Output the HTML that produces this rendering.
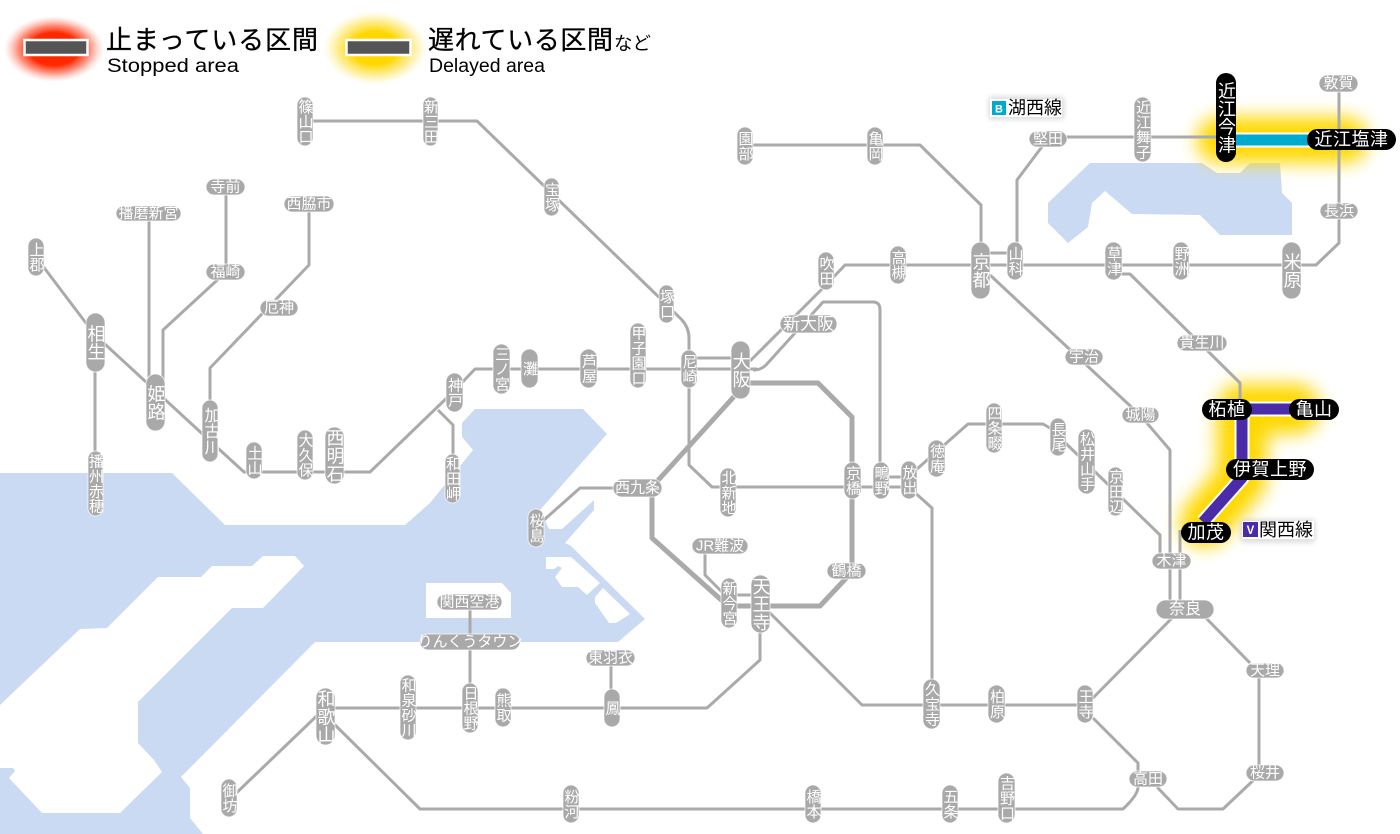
<!DOCTYPE html>
<html lang="ja"><head><meta charset="utf-8"><title>路線図</title>
<style>
html,body{margin:0;padding:0;background:#fff;width:1400px;height:834px;overflow:hidden}
svg{display:block}
text{font-family:"Liberation Sans","Noto Sans CJK JP",sans-serif}
.l{fill:none;stroke:#aaa;stroke-width:3;stroke-linejoin:round}
.t{fill:none;stroke:#aaa;stroke-width:5;stroke-linejoin:round}
.p rect{fill:#a9a9a9;stroke:#fff;stroke-opacity:.7;stroke-width:1}
.p text{fill:#fff;text-anchor:middle;font-size:15px}
.p .b{font-size:18px}
.v{writing-mode:vertical-rl}
.h{dominant-baseline:central}
.k rect{fill:#000}
.k text{fill:#fff;text-anchor:middle;font-size:18px}
.k .h{letter-spacing:.5px}
</style></head><body>
<svg width="1400" height="834" viewBox="0 0 1400 834" xmlns="http://www.w3.org/2000/svg">
<defs>
<filter id="g2" filterUnits="userSpaceOnUse" x="0" y="0" width="1400" height="834"><feGaussianBlur stdDeviation="9"/></filter>
<filter id="sh" x="-20%" y="-30%" width="140%" height="160%"><feGaussianBlur stdDeviation="2"/></filter>
<radialGradient id="rg"><stop offset="0" stop-color="#ff2000"/><stop offset=".5" stop-color="#ff2a00"/><stop offset=".72" stop-color="#ff6a50" stop-opacity=".75"/><stop offset="1" stop-color="#ffb0a0" stop-opacity="0"/></radialGradient>
<radialGradient id="yg"><stop offset="0" stop-color="#ffd800"/><stop offset=".45" stop-color="#ffd800"/><stop offset=".72" stop-color="#ffe460" stop-opacity=".7"/><stop offset="1" stop-color="#fff0a0" stop-opacity="0"/></radialGradient>
</defs>

<!-- sea -->
<polygon fill="#cadaf3" points="0,473 172,473 225,525 405,525 430,503 473,450 462,437 462,423 475,409 583,409 607,434 540,510 549,529 562,529 594,500 594,510 565,543 571,546 645,619 618,642 315,642 181,777 190,788 190,818 203,834 0,834"/>
<polygon fill="#fff" points="304,566 295,556 263,556 252,566 212,566 201,577 158,577 107,628 80,629 0,705 0,768 13,768 15,771 9,778 42,813 120,813 162,772 154,760 138,743 138,702 232,608 263,608"/>
<polygon fill="#fff" points="426,583 502,583 511,593 511,618 426,618"/>
<polygon fill="#fff" points="546,557 571,557 600,583 587,595 578,587 562,587 555,577 562,568 558,566 554,569 546,569"/>
<polygon fill="#fff" points="603,588 630,614 616,623 609,623 595,603 595,597"/>
<!-- lake -->
<polygon fill="#cadaf3" points="1090,163 1202,163 1217,173 1240,173 1250,163 1280,163 1282,193 1292,203 1292,235 1220,235 1200,215 1132,214 1105,191 1092,203 1088,227 1068,243 1048,223 1048,203"/>

<!-- glows -->
<ellipse cx="54" cy="49" rx="50" ry="33" fill="url(#rg)"/>
<ellipse cx="375" cy="48" rx="52" ry="37" fill="url(#yg)"/>
<path d="M1220 140H1345" fill="none" stroke="#ffd800" stroke-width="46" stroke-linecap="round" filter="url(#g2)"/>
<path d="M1295 409H1242V478L1205 522" fill="none" stroke="#ffd800" stroke-width="50" stroke-linecap="round" stroke-linejoin="round" filter="url(#g2)"/>
<rect x="24.5" y="40" width="63" height="15" fill="#555" stroke="#fff" stroke-width="2.5"/>
<rect x="346.5" y="40" width="64" height="15" fill="#555" stroke="#fff" stroke-width="2.5"/>

<!-- legend text -->
<text x="106" y="49" font-size="26" fill="#000" stroke="#000" stroke-width=".3" textLength="212">止まっている区間</text>
<text x="107" y="72" font-size="19" fill="#000" textLength="132" lengthAdjust="spacingAndGlyphs">Stopped area</text>
<text x="428" y="49" font-size="26" fill="#000" stroke="#000" stroke-width=".3" textLength="185">遅れている区間</text>
<text x="614" y="50" font-size="18.5" fill="#000">など</text>
<text x="429" y="72" font-size="19" fill="#000" textLength="116" lengthAdjust="spacingAndGlyphs">Delayed area</text>

<!-- lines -->
<path class="l" d="M305 121H477L666 304L682 320Q689 328 689 338V465L712 487H908"/>
<path class="l" d="M36 257L95 335L209 440L244 472H370L454 391L475 369H757"/>
<path class="l" d="M95 345V485"/>
<path class="l" d="M149 213V380"/>
<path class="l" d="M226 187V272L163 330V380"/>
<path class="l" d="M309 204V265L210 368V410"/>
<path class="l" d="M438 410L453 425V470"/>
<path class="l" d="M689 358H740"/>
<path class="l" d="M750 361L826 285L845 265H1316L1339 243V83"/>
<path class="l" d="M753 370Q761 370 766 365L823 302H873Q880 302 880 310V480"/>
<path class="l" d="M745 145H920L981 205V265"/>
<path class="l" d="M985 253H1015"/>
<path class="l" d="M990 275L1140 415L1170 450V610"/>
<path class="l" d="M1047 137H1226"/>
<path class="l" d="M1047 140L1017 180V260"/>
<path class="l" d="M1113 274H1130L1240 383V405"/>
<path class="l" d="M1180 530V610"/>
<path class="l" d="M880 477H908"/>
<path class="l" d="M909 476L968 424H1043L1050 428L1160 535V560"/>
<path class="l" d="M912 490L932 508V705"/>
<path class="l" d="M536 527L580 488H640"/>
<path class="t" d="M745 383H818L852 417V570"/>
<path class="t" d="M740 390L652 487V538L728 606H820L852 572"/>
<path class="l" d="M705 546V575L725 595H760"/>
<path class="l" d="M760 620V660L707 708H325"/>
<path class="l" d="M765 608L862 705H1086L1175 615"/>
<path class="l" d="M1205 617L1250 663"/>
<path class="l" d="M1259 670V772"/>
<path class="l" d="M1093 718L1138 763V787Q1138 795 1123 809H420L330 720"/>
<path class="l" d="M1157 787L1178 809H1223L1259 775"/>
<path class="l" d="M229 800L325 708"/>
<path class="l" d="M611 657V700"/>
<path class="l" d="M470 602V700"/>

<!-- stations -->
<g class="p">
<rect x="297" y="97" width="16" height="49" rx="8"/><text class="v" x="305" y="121.5">篠山口</text>
<rect x="423" y="97" width="15" height="49" rx="7.5"/><text class="v" x="430.5" y="121.5">新三田</text>
<rect x="544" y="178" width="15" height="38" rx="7.5"/><text class="v" x="551.5" y="197">宝塚</text>
<rect x="659" y="285" width="15" height="38" rx="7.5"/><text class="v" x="666.5" y="304">塚口</text>
<rect x="28" y="238" width="16" height="38" rx="8"/><text class="v" x="36" y="257">上郡</text>
<rect x="206" y="179" width="39" height="16" rx="8"/><text class="h" x="225.5" y="187">寺前</text>
<rect x="116" y="206" width="65" height="15" rx="7.5"/><text class="h" x="148.5" y="213.5">播磨新宮</text>
<rect x="284" y="196" width="50" height="16" rx="8"/><text class="h" x="309" y="204">西脇市</text>
<rect x="206" y="264" width="39" height="16" rx="8"/><text class="h" x="225.5" y="272">福崎</text>
<rect x="260" y="300" width="38" height="16" rx="8"/><text class="h" x="279" y="308">厄神</text>
<rect x="86" y="313" width="19" height="59" rx="9.5"/><text class="v b" x="95.5" y="342.5">相生</text>
<rect x="146" y="374" width="19" height="57" rx="9.5"/><text class="v b" x="155.5" y="402.5">姫路</text>
<rect x="202" y="400" width="16" height="62" rx="8"/><text class="v" x="210" y="431" style="font-size:16px">加古川</text>
<rect x="246" y="442" width="16" height="37" rx="8"/><text class="v" x="254" y="460.5">土山</text>
<rect x="297" y="430" width="16" height="50" rx="8"/><text class="v" x="305" y="455">大久保</text>
<rect x="325" y="427" width="19" height="57" rx="9.5"/><text class="v b" x="334.5" y="455.5">西明石</text>
<rect x="88" y="451" width="15" height="65" rx="7.5"/><text class="v" x="95.5" y="483.5">播州赤穂</text>
<rect x="446" y="373" width="17" height="39" rx="8.5"/><text class="v" x="454.5" y="392.5">神戸</text>
<rect x="445" y="454" width="15" height="49" rx="7.5"/><text class="v" x="452.5" y="478.5">和田岬</text>
<rect x="493" y="344" width="17" height="50" rx="8.5"/><text class="v" x="501.5" y="369">三ノ宮</text>
<rect x="521" y="349" width="17" height="39" rx="8.5"/><text class="v" x="529.5" y="368.5">灘</text>
<rect x="580" y="349" width="17" height="39" rx="8.5"/><text class="v" x="588.5" y="368.5">芦屋</text>
<rect x="630" y="323" width="16" height="65" rx="8"/><text class="v" x="638" y="355.5">甲子園口</text>
<rect x="681" y="350" width="16" height="38" rx="8"/><text class="v" x="689" y="369">尼崎</text>
<rect x="731" y="341" width="19" height="58" rx="9.5"/><text class="v b" x="740.5" y="370">大阪</text>
<rect x="780" y="315" width="57" height="18" rx="9"/><text class="h b" x="808.5" y="324" style="font-size:17px">新大阪</text>
<rect x="844" y="462" width="17" height="37" rx="8.5"/><text class="v" x="852.5" y="480.5">京橋</text>
<rect x="873" y="462" width="16" height="37" rx="8"/><text class="v" x="881" y="480.5">鴫野</text>
<rect x="901" y="461" width="16" height="38" rx="8"/><text class="v" x="909" y="480">放出</text>
<rect x="928" y="440" width="17" height="37" rx="8.5"/><text class="v" x="936.5" y="458.5">徳庵</text>
<rect x="720" y="468" width="16" height="49" rx="8"/><text class="v" x="728" y="492.5">北新地</text>
<rect x="613" y="479" width="49" height="18" rx="9"/><text class="h" x="637.5" y="488">西九条</text>
<rect x="692" y="538" width="56" height="16" rx="8"/><text class="h" x="720" y="546">JR難波</text>
<rect x="721" y="578" width="16" height="50" rx="8"/><text class="v" x="729" y="603">新今宮</text>
<rect x="751" y="575" width="19" height="58" rx="9.5"/><text class="v b" x="760.5" y="604">天王寺</text>
<rect x="827" y="563" width="39" height="16" rx="8"/><text class="h" x="846.5" y="571">鶴橋</text>
<rect x="818" y="252" width="16" height="38" rx="8"/><text class="v" x="826" y="271">吹田</text>
<rect x="890" y="246" width="16" height="38" rx="8"/><text class="v" x="898" y="265">高槻</text>
<rect x="971" y="242" width="19" height="57" rx="9.5"/><text class="v b" x="980.5" y="270.5">京都</text>
<rect x="1007" y="242" width="16" height="38" rx="8"/><text class="v" x="1015" y="261">山科</text>
<rect x="1105" y="242" width="17" height="38" rx="8.5"/><text class="v" x="1113.5" y="261">草津</text>
<rect x="1173" y="242" width="16" height="38" rx="8"/><text class="v" x="1181" y="261">野洲</text>
<rect x="1282" y="242" width="19" height="57" rx="9.5"/><text class="v b" x="1291.5" y="270.5">米原</text>
<rect x="1029" y="131" width="38" height="16" rx="8"/><text class="h" x="1048" y="139">堅田</text>
<rect x="1134" y="97" width="17" height="65" rx="8.5"/><text class="v" x="1142.5" y="129.5">近江舞子</text>
<rect x="1319" y="75" width="39" height="17" rx="8.5"/><text class="h" x="1338.5" y="83.5">敦賀</text>
<rect x="1320" y="203" width="38" height="16" rx="8"/><text class="h" x="1339" y="211">長浜</text>
<rect x="867" y="127" width="16" height="38" rx="8"/><text class="v" x="875" y="146">亀岡</text>
<rect x="737" y="127" width="16" height="38" rx="8"/><text class="v" x="745" y="146">園部</text>
<rect x="1177" y="335" width="50" height="16" rx="8"/><text class="h" x="1202" y="343">貴生川</text>
<rect x="1065" y="349" width="38" height="16" rx="8"/><text class="h" x="1084" y="357">宇治</text>
<rect x="1122" y="407" width="37" height="16" rx="8"/><text class="h" x="1140.5" y="415">城陽</text>
<rect x="1050" y="418" width="16" height="38" rx="8"/><text class="v" x="1058" y="437">長尾</text>
<rect x="1078" y="429" width="17" height="65" rx="8.5"/><text class="v" x="1086.5" y="461.5">松井山手</text>
<rect x="1108" y="467" width="15" height="49" rx="7.5"/><text class="v" x="1115.5" y="491.5">京田辺</text>
<rect x="1152" y="553" width="39" height="16" rx="8"/><text class="h" x="1171.5" y="561">木津</text>
<rect x="1156" y="600" width="58" height="19" rx="9.5"/><text class="h" x="1185" y="609.5" style="font-size:16px">奈良</text>
<rect x="986" y="403" width="16" height="50" rx="8"/><text class="v" x="994" y="428">四条畷</text>
<rect x="1246" y="663" width="38" height="15" rx="7.5"/><text class="h" x="1265" y="670.5">天理</text>
<rect x="1246" y="765" width="38" height="16" rx="8"/><text class="h" x="1265" y="773">桜井</text>
<rect x="1129" y="771" width="38" height="16" rx="8"/><text class="h" x="1148" y="779">高田</text>
<rect x="1077" y="685" width="16" height="38" rx="8"/><text class="v" x="1085" y="704">王寺</text>
<rect x="988" y="685" width="17" height="38" rx="8.5"/><text class="v" x="996.5" y="704">柏原</text>
<rect x="923" y="679" width="17" height="50" rx="8.5"/><text class="v" x="931.5" y="704">久宝寺</text>
<rect x="998" y="773" width="17" height="50" rx="8.5"/><text class="v" x="1006.5" y="798">吉野口</text>
<rect x="942" y="785" width="16" height="38" rx="8"/><text class="v" x="950" y="804">五条</text>
<rect x="805" y="785" width="16" height="38" rx="8"/><text class="v" x="813" y="804">橋本</text>
<rect x="563" y="785" width="16" height="38" rx="8"/><text class="v" x="571" y="804">粉河</text>
<rect x="221" y="779" width="16" height="38" rx="8"/><text class="v" x="229" y="798">御坊</text>
<rect x="316" y="688" width="19" height="57" rx="9.5"/><text class="v b" x="325.5" y="716.5">和歌山</text>
<rect x="400" y="675" width="16" height="65" rx="8"/><text class="v" x="408" y="707.5">和泉砂川</text>
<rect x="462" y="683" width="16" height="50" rx="8"/><text class="v" x="470" y="708">日根野</text>
<rect x="495" y="688" width="16" height="39" rx="8"/><text class="v" x="503" y="707.5">熊取</text>
<rect x="604" y="689" width="16" height="38" rx="8"/><text class="v" x="612" y="708">鳳</text>
<rect x="586" y="650" width="49" height="16" rx="8"/><text class="h" x="610.5" y="658">東羽衣</text>
<rect x="420" y="634" width="100" height="16" rx="8"/><text class="h" x="470" y="642">りんくうタウン</text>
<rect x="437" y="594" width="65" height="16" rx="8"/><text class="h" x="469.5" y="602">関西空港</text>
<rect x="528" y="509" width="16" height="38" rx="8"/><text class="v" x="536" y="528">桜島</text>
</g>

<!-- active lines -->
<path d="M1236 140H1310" fill="none" stroke="#fff" stroke-width="15"/>
<path d="M1236 140H1310" fill="none" stroke="#00a9ce" stroke-width="11"/>
<path d="M1295 409H1242V478L1203 522" fill="none" stroke="#fff" stroke-width="15" stroke-linejoin="round"/>
<path d="M1295 409H1242V478L1203 522" fill="none" stroke="#4a2ca8" stroke-width="11" stroke-linejoin="round"/>
<g class="k">
<rect x="1216" y="73" width="20" height="89" rx="10"/><text class="v" x="1226" y="117.5">近江今津</text>
<rect x="1307" y="129" width="89" height="21" rx="10.5"/><text class="h" x="1351.5" y="139.5">近江塩津</text>
<rect x="1202" y="399" width="50" height="21" rx="10.5"/><text class="h" x="1227" y="409.5">柘植</text>
<rect x="1289" y="399" width="50" height="21" rx="10.5"/><text class="h" x="1314" y="409.5">亀山</text>
<rect x="1226" y="459" width="88" height="21" rx="10.5"/><text class="h" x="1270" y="469.5">伊賀上野</text>
<rect x="1181" y="522" width="50" height="21" rx="10.5"/><text class="h" x="1206" y="532.5">加茂</text>
</g>

<!-- line labels -->
<rect x="988" y="96" width="77" height="24" rx="5" fill="#ccc" opacity=".6" filter="url(#sh)"/>
<rect x="990" y="99" width="72" height="18" fill="#fff"/>
<rect x="992" y="101" width="14" height="14" fill="#00a9ce"/>
<text x="999" y="112.5" font-size="11" font-weight="bold" fill="#fff" text-anchor="middle">B</text>
<text x="1008" y="114" font-size="18" fill="#000">湖西線</text>
<rect x="1240" y="519" width="76" height="24" rx="5" fill="#ccc" opacity=".6" filter="url(#sh)"/>
<rect x="1242" y="521" width="72" height="18" fill="#fff"/>
<rect x="1243" y="522" width="15" height="15" fill="#4a2ca8"/>
<text x="1250.5" y="534" font-size="11.5" font-weight="bold" fill="#fff" text-anchor="middle">V</text>
<text x="1259" y="536" font-size="18" fill="#000">関西線</text>
</svg>
</body></html>
